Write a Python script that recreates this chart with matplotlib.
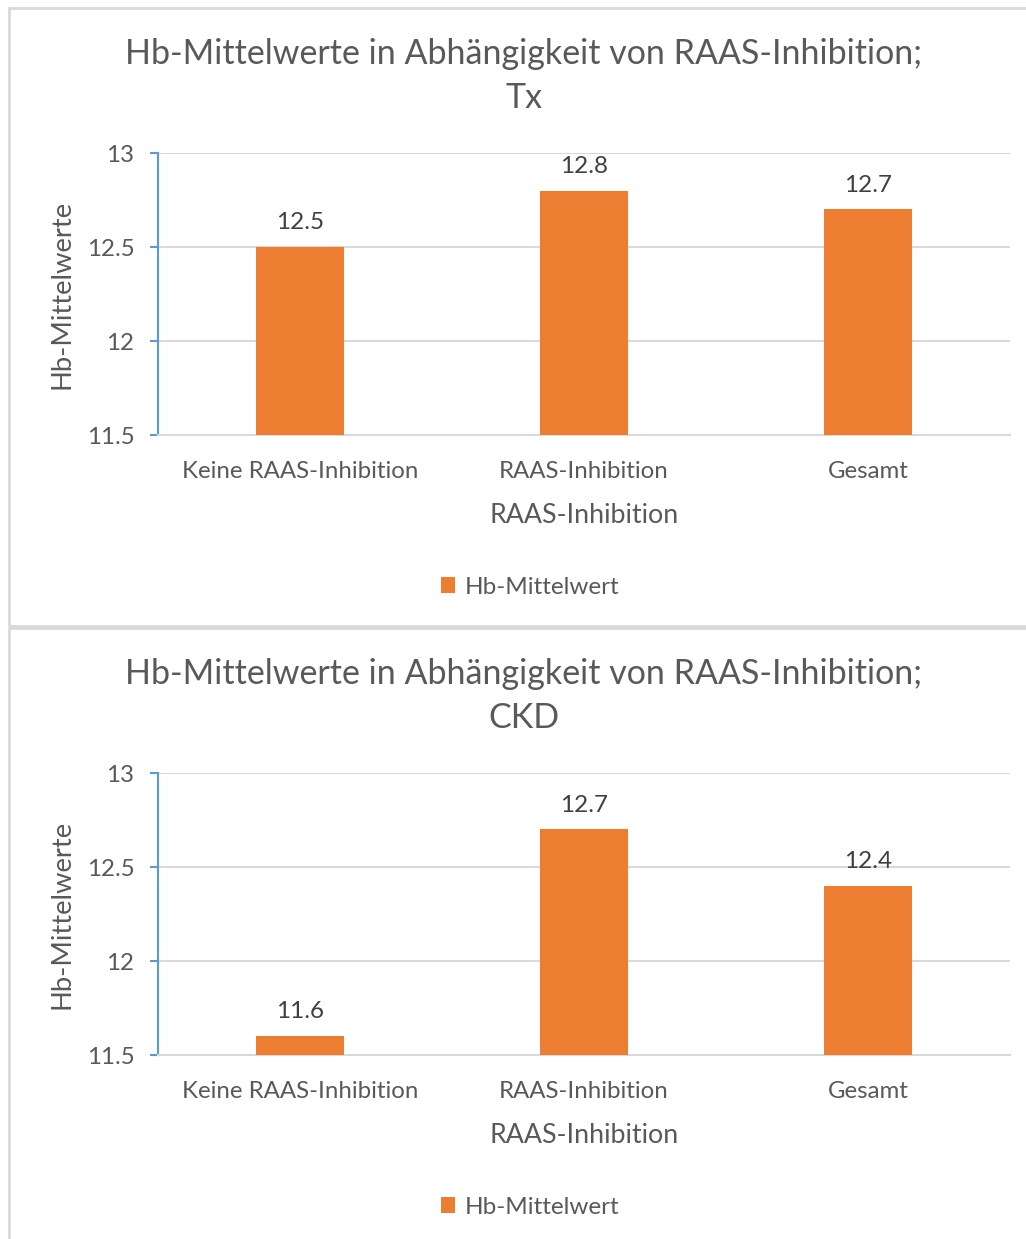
import matplotlib.pyplot as plt
from matplotlib.patches import Rectangle

# Hb-Mittelwerte je Gruppe, Tx und CKD
kategorien = ["Keine RAAS-Inhibition", "RAAS-Inhibition", "Gesamt"]
hb_tx = [12.5, 12.8, 12.7]
hb_ckd = [11.6, 12.7, 12.4]
titel = ["Hb-Mittelwerte in Abhängigkeit von RAAS-Inhibition;\nTx",
         "Hb-Mittelwerte in Abhängigkeit von RAAS-Inhibition;\nCKD"]
y_ticks = [11.5, 12, 12.5, 13]
y_tick_labels = ["11.5", "12", "12.5", "13"]

ORANGE = "#ed7d31"
GRAU = "#595959"
GRID = "#d9d9d9"
BLAU = "#5b9bd5"

W, H = 1026, 1239
plt.rcParams["font.family"] = ["Lato", "DejaVu Sans"]
fig = plt.figure(figsize=(W / 100, H / 100), dpi=100)


def fx(x):
    return x / W


def fy(y):
    return 1 - y / H


def diagramm(werte, titeltext, top):
    # Rahmen um das Diagramm
    fig.patches.append(Rectangle((fx(9), fy(top + 618)), fx(1030 - 9), 618 / H,
                                 transform=fig.transFigure, fill=False,
                                 edgecolor=GRID, linewidth=2))
    ax = fig.add_axes([fx(158), fy(top + 427), fx(1010 - 158), 282 / H])
    x = range(len(kategorien))
    bars = ax.bar(x, [w - 11.5 for w in werte], bottom=11.5, width=0.31,
                  color=ORANGE, label="Hb-Mittelwert", zorder=3)
    for b, w in zip(bars, werte):
        ax.annotate(f"{w}", (b.get_x() + b.get_width() / 2, w),
                    xytext=(0, 10), textcoords="offset points",
                    ha="center", va="bottom", fontsize=17.5, color="#404040")
    ax.set_xlim(-0.5, 2.5)
    ax.set_ylim(11.5, 13)
    ax.set_yticks(y_ticks)
    ax.set_yticklabels(y_tick_labels)
    ax.set_xticks(list(x))
    ax.set_xticklabels(kategorien)
    ax.tick_params(axis="x", length=0, pad=19, labelsize=17.3, labelcolor=GRAU)
    ax.tick_params(axis="y", length=6, width=1.5, color=BLAU, pad=11,
                   labelsize=17.3, labelcolor=GRAU)
    ax.grid(axis="y", color=GRID, linewidth=1.5, zorder=0)
    for s in ["top", "right"]:
        ax.spines[s].set_visible(False)
    ax.spines["left"].set_color(BLAU)
    ax.spines["left"].set_linewidth(1.5)
    ax.spines["bottom"].set_color(GRID)
    ax.spines["bottom"].set_linewidth(1.5)
    ax.set_xlabel("RAAS-Inhibition", fontsize=19.3, color=GRAU, labelpad=15)
    ax.set_ylabel("Hb-Mittelwerte", fontsize=19.7, color=GRAU, labelpad=9)
    fig.text(fx(524), fy(top + 68), titeltext, ha="center", va="center",
             fontsize=24.5, color=GRAU, linespacing=1.5)
    fig.legend(handles=[bars], loc="center", bbox_to_anchor=(fx(530), fy(top + 579)),
               frameon=False, fontsize=17.5, labelcolor=GRAU,
               handlelength=0.6, handleheight=0.6, handletextpad=0.4)


diagramm(hb_tx, titel[0], 8)
diagramm(hb_ckd, titel[1], 628)

fig.savefig("out.png", dpi=100)
